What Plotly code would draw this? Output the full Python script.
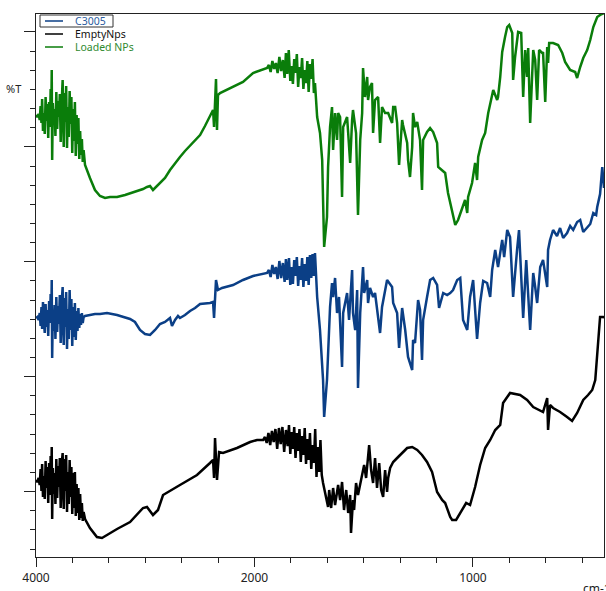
import plotly.graph_objects as go

# FTIR spectra (wavenumber in cm-1, %T on an offset display scale)
loaded_nps = [
    (4000, 88.4), (3988, 88.0), (3976, 88.6), (3966, 87.4), (3958, 90.2), (3950, 86.8), (3944, 91.6),
    (3936, 85.2), (3928, 88.8), (3920, 84.6), (3912, 92.0), (3904, 87.2), (3896, 90.6), (3888, 83.8),
    (3880, 91.0), (3872, 86.0), (3866, 93.6), (3860, 88.2), (3856, 97.4), (3852, 79.4), (3846, 90.8),
    (3838, 86.4), (3830, 89.6), (3822, 84.2), (3814, 93.0), (3806, 85.6), (3798, 91.2), (3790, 88.0),
    (3782, 92.6), (3774, 83.0), (3766, 90.4), (3760, 94.0), (3756, 95.4), (3750, 86.2), (3746, 82.0),
    (3740, 92.8), (3732, 87.0), (3724, 94.2), (3716, 81.8), (3708, 90.0), (3700, 84.0), (3692, 93.2),
    (3684, 86.6), (3676, 92.0), (3668, 80.8), (3660, 89.6), (3652, 83.2), (3644, 91.0), (3636, 80.2),
    (3628, 88.4), (3620, 82.6), (3612, 87.8), (3604, 79.6), (3596, 85.2), (3588, 80.4), (3580, 83.6),
    (3572, 79.0), (3564, 81.4),
    (3551, 78.4), (3506, 75.8), (3460, 73.4), (3414, 72.2), (3368, 71.8), (3322, 72.0), (3258, 72.0),
    (3185, 72.4), (3094, 73.0), (3020, 73.6), (2984, 74.0), (2956, 74.2), (2929, 73.4), (2910, 73.8),
    (2865, 74.8), (2819, 75.8), (2773, 77.4), (2727, 78.8), (2682, 80.0), (2636, 81.2), (2590, 82.2),
    (2544, 83.2), (2498, 84.4), (2453, 86.2), (2407, 88.0),
    (2379, 89.4), (2370, 86.0), (2361, 91.4), (2352, 95.6), (2343, 85.4), (2334, 92.4), (2315, 92.8),
    (2297, 93.0), (2196, 94.0), (2105, 95.0), (2013, 96.8),
    (1942, 97.8), (1934, 98.4), (1926, 97.0), (1918, 99.2), (1910, 97.6), (1902, 98.8), (1894, 96.8),
    (1886, 100.0), (1878, 97.2), (1870, 99.4), (1862, 95.8), (1856, 100.8), (1850, 96.6), (1843, 101.4),
    (1836, 95.2), (1830, 98.2), (1824, 94.6), (1818, 99.6), (1812, 96.8), (1806, 100.6), (1800, 94.0),
    (1794, 98.0), (1788, 95.8), (1782, 99.8), (1776, 93.6), (1770, 97.4), (1764, 94.8), (1758, 99.2),
    (1752, 93.0), (1746, 98.6), (1740, 95.6), (1734, 99.6), (1728, 92.8), (1723, 94.8), (1713, 88.0),
    (1700, 84.8), (1690, 79.4), (1686, 71.4), (1681, 62.0), (1668, 68.0), (1663, 78.0), (1654, 86.0),
    (1645, 90.0), (1640, 81.4), (1631, 88.8), (1622, 83.4), (1617, 88.8), (1608, 88.0), (1599, 72.0),
    (1594, 86.0), (1576, 88.0), (1571, 84.8), (1562, 78.8), (1553, 87.4), (1549, 89.4), (1535, 84.8),
    (1526, 68.4), (1516, 83.4), (1507, 88.8), (1503, 97.8), (1494, 92.0), (1484, 96.0), (1480, 91.4),
    (1471, 94.0), (1462, 94.8), (1457, 84.8), (1448, 91.4), (1434, 92.0), (1425, 82.8), (1416, 90.0),
    (1402, 88.8), (1388, 88.8), (1370, 86.8), (1365, 90.0), (1356, 90.0), (1347, 86.8), (1338, 78.4),
    (1324, 87.4), (1320, 86.4), (1301, 82.8), (1297, 79.4), (1288, 76.0), (1278, 82.0), (1274, 88.8),
    (1265, 86.0), (1255, 87.0), (1251, 86.0), (1242, 83.4), (1233, 73.4), (1228, 83.4), (1210, 85.0),
    (1196, 85.8), (1182, 85.0), (1164, 82.8), (1159, 78.0), (1141, 77.4), (1127, 76.8), (1114, 72.8),
    (1095, 68.8), (1081, 66.4), (1068, 67.4), (1049, 70.0), (1036, 71.4), (1026, 68.8), (1022, 72.0),
    (1004, 74.8), (990, 78.8), (981, 75.4), (976, 80.0), (958, 83.4), (944, 84.8), (930, 88.8),
    (907, 93.4), (889, 91.4), (885, 92.0), (875, 96.0), (866, 101.0), (853, 104.0), (843, 106.0),
    (834, 106.4), (820, 104.8), (816, 95.4), (807, 100.0), (793, 105.0), (779, 104.8), (770, 92.0),
    (761, 101.4), (752, 96.0), (747, 101.8), (738, 86.8), (724, 101.4), (715, 99.4), (706, 91.4),
    (697, 101.4), (683, 100.8), (679, 101.0), (669, 91.0), (660, 102.0), (656, 98.8), (651, 102.8),
    (633, 102.8), (610, 102.4), (591, 100.8), (578, 99.0), (555, 97.4), (532, 97.0), (523, 95.8),
    (509, 98.0), (495, 99.8), (477, 101.4), (463, 103.4), (449, 106.0), (431, 108.0), (418, 108.4),
    (400, 108.8),
]

c3005 = [
    (4000, 47.8), (3988, 48.0), (3976, 47.4), (3966, 48.8), (3958, 46.2), (3950, 50.0), (3944, 45.6),
    (3936, 51.0), (3928, 47.2), (3920, 44.8), (3912, 50.6), (3904, 46.0), (3896, 49.4), (3888, 44.2),
    (3880, 51.2), (3872, 46.8), (3866, 52.6), (3860, 47.6), (3856, 55.4), (3852, 39.8), (3846, 49.2),
    (3838, 45.2), (3830, 50.4), (3822, 43.6), (3814, 52.0), (3806, 45.0), (3798, 50.2), (3790, 46.6),
    (3782, 52.4), (3774, 42.8), (3766, 50.6), (3760, 53.0), (3756, 54.0), (3750, 45.0), (3746, 42.4),
    (3740, 51.8), (3732, 46.0), (3724, 53.0), (3716, 41.6), (3708, 49.6), (3700, 43.6), (3692, 53.4),
    (3684, 45.4), (3676, 51.6), (3668, 42.2), (3660, 50.0), (3652, 44.0), (3644, 50.8), (3636, 43.4),
    (3628, 49.2), (3620, 45.2), (3612, 49.8), (3604, 45.8), (3596, 48.6), (3588, 46.4), (3580, 48.8),
    (3572, 46.8), (3564, 48.0),
    (3551, 48.2), (3506, 48.4), (3460, 48.6), (3414, 48.6), (3350, 48.8), (3258, 48.4), (3139, 47.6),
    (3094, 47.0), (3048, 45.4), (3002, 44.6), (2956, 44.4), (2910, 45.4), (2865, 46.6), (2819, 47.0),
    (2773, 47.8), (2755, 46.2), (2727, 47.4), (2700, 48.2), (2682, 47.8), (2636, 48.4), (2590, 49.2),
    (2544, 49.8), (2498, 50.6), (2407, 50.8), (2379, 51.0), (2370, 47.8), (2352, 55.4), (2334, 53.4),
    (2297, 53.8), (2196, 54.4), (2105, 55.4), (2013, 56.2),
    (1942, 56.8), (1934, 57.4), (1926, 56.0), (1918, 58.4), (1910, 56.6), (1902, 58.0), (1894, 55.6),
    (1886, 59.2), (1878, 55.8), (1870, 58.8), (1862, 55.0), (1856, 59.6), (1850, 55.4), (1842, 59.8),
    (1836, 54.4), (1830, 58.0), (1824, 54.6), (1818, 59.4), (1812, 56.2), (1806, 60.0), (1800, 54.2),
    (1794, 58.2), (1788, 55.4), (1782, 59.8), (1776, 54.0), (1770, 58.6), (1764, 55.2), (1758, 60.0),
    (1752, 54.4), (1746, 60.4), (1740, 55.8), (1734, 60.6), (1728, 56.2), (1723, 60.8), (1713, 52.0),
    (1700, 45.4), (1686, 35.4), (1681, 28.0), (1668, 35.4), (1654, 50.0), (1645, 54.8), (1640, 52.0),
    (1631, 55.8), (1622, 48.8), (1613, 52.0), (1599, 38.0), (1594, 48.8), (1576, 52.8), (1567, 47.4),
    (1553, 57.4), (1549, 48.8), (1539, 45.4), (1530, 53.4), (1526, 33.8), (1516, 48.8), (1503, 58.0),
    (1498, 52.8), (1484, 55.4), (1480, 50.8), (1471, 53.8), (1457, 52.0), (1448, 52.8), (1425, 44.8),
    (1416, 50.0), (1393, 55.4), (1370, 54.0), (1365, 50.8), (1347, 48.8), (1338, 41.8), (1324, 49.8),
    (1310, 45.4), (1297, 40.0), (1278, 37.4), (1274, 43.4), (1265, 42.8), (1251, 51.4), (1242, 49.4),
    (1233, 39.4), (1228, 47.4), (1210, 52.0), (1196, 55.4), (1182, 55.8), (1164, 54.4), (1155, 49.8),
    (1136, 52.8), (1118, 52.4), (1104, 52.8), (1091, 53.4), (1072, 55.4), (1058, 55.8), (1045, 47.4),
    (1026, 45.4), (1013, 52.0), (999, 55.4), (981, 43.6), (967, 50.8), (953, 55.2), (935, 54.8),
    (921, 52.0), (912, 57.4), (898, 61.4), (885, 58.0), (866, 63.4), (857, 60.0), (843, 65.4),
    (830, 64.0), (816, 52.0), (798, 61.4), (789, 65.4), (770, 47.8), (756, 59.4), (738, 45.4),
    (724, 56.8), (715, 54.0), (706, 50.8), (692, 58.0), (679, 59.4), (660, 54.0), (656, 61.4),
    (647, 63.4), (633, 65.4), (615, 64.2), (601, 65.8), (587, 63.8), (569, 64.8), (555, 66.2),
    (541, 65.4), (523, 67.0), (509, 67.4), (495, 65.0), (477, 65.8), (463, 66.6), (449, 68.8),
    (436, 68.4), (431, 70.0), (418, 72.6), (408, 78.0), (404, 75.4), (400, 73.8),
]

empty_nps = [
    (4000, 15.4), (3988, 15.0), (3976, 15.8), (3966, 14.4), (3958, 17.6), (3950, 13.2), (3944, 18.6),
    (3936, 12.0), (3928, 16.2), (3920, 11.6), (3912, 19.2), (3904, 13.8), (3896, 18.0), (3888, 10.8),
    (3880, 18.8), (3872, 12.4), (3866, 20.2), (3860, 14.6), (3856, 22.0), (3852, 7.6), (3846, 17.8),
    (3838, 12.6), (3830, 16.8), (3822, 10.6), (3814, 19.6), (3806, 11.8), (3798, 18.2), (3790, 14.0),
    (3782, 19.8), (3774, 9.8), (3766, 18.4), (3760, 20.0), (3756, 20.8), (3750, 12.0), (3746, 9.6),
    (3740, 19.6), (3732, 13.2), (3724, 20.4), (3716, 9.0), (3708, 17.0), (3700, 10.6), (3692, 19.4),
    (3684, 12.0), (3676, 18.0), (3668, 8.6), (3660, 16.8), (3652, 9.8), (3644, 17.0), (3636, 8.2),
    (3628, 14.6), (3620, 8.8), (3612, 13.8), (3604, 7.4), (3596, 12.6), (3588, 7.8), (3580, 10.8),
    (3572, 7.2), (3564, 9.0),
    (3551, 7.6), (3506, 5.8), (3442, 4.0), (3396, 3.8), (3322, 4.8), (3258, 5.6), (3139, 7.0),
    (3020, 9.8), (2984, 10.0), (2929, 8.4), (2883, 9.4), (2837, 12.4), (2682, 14.4), (2526, 16.4),
    (2407, 18.8), (2379, 19.4), (2370, 15.8), (2361, 23.8), (2343, 15.4), (2324, 21.0), (2288, 20.8),
    (2160, 21.8), (2040, 23.0), (1988, 23.4),
    (1960, 23.4), (1952, 24.0), (1944, 22.8), (1936, 24.8), (1928, 22.4), (1920, 25.2), (1912, 23.0),
    (1904, 25.6), (1896, 21.6), (1888, 25.8), (1880, 22.6), (1872, 26.0), (1864, 21.0), (1856, 25.4),
    (1848, 22.2), (1842, 26.4), (1836, 20.6), (1830, 25.0), (1824, 21.6), (1818, 26.0), (1812, 19.8),
    (1806, 24.8), (1800, 21.2), (1794, 25.6), (1788, 19.0), (1782, 24.2), (1776, 20.4), (1770, 25.8),
    (1764, 18.6), (1758, 23.6), (1752, 19.4), (1746, 24.8), (1740, 17.6), (1734, 22.4), (1728, 18.8),
    (1722, 25.6), (1716, 16.0), (1710, 22.0), (1704, 17.0), (1698, 23.4), (1692, 16.4), (1686, 14.8),
    (1663, 10.0), (1658, 13.4), (1649, 9.8), (1640, 13.8), (1631, 10.4), (1617, 14.4),
    (1608, 11.4), (1599, 15.0), (1590, 9.4), (1580, 13.4), (1571, 8.8), (1562, 12.4), (1558, 4.8),
    (1549, 11.4), (1544, 9.4), (1535, 14.8), (1526, 12.4), (1512, 15.4), (1498, 18.4), (1489, 15.8),
    (1475, 22.4), (1466, 17.4), (1457, 14.8), (1448, 19.8), (1439, 13.8), (1429, 18.8), (1420, 13.4),
    (1411, 12.0), (1402, 17.4), (1393, 13.0), (1388, 15.8), (1379, 17.8), (1365, 19.0), (1347, 19.8),
    (1324, 20.8), (1301, 21.8), (1278, 22.0), (1255, 21.4), (1233, 20.4), (1210, 19.0), (1187, 17.0),
    (1164, 13.0), (1141, 11.4), (1127, 10.8), (1104, 8.0), (1095, 7.4), (1077, 7.4), (1058, 8.8),
    (1049, 9.4), (1031, 10.8), (1013, 10.4), (990, 14.0), (967, 18.4), (944, 21.8), (921, 23.4),
    (898, 25.4), (875, 26.4), (862, 30.8), (830, 32.8), (784, 32.4), (752, 31.4), (724, 30.0),
    (679, 29.0), (660, 31.8), (656, 25.4), (647, 30.4), (633, 29.8), (601, 29.0), (569, 28.0),
    (546, 27.2), (523, 28.8), (495, 31.4), (473, 32.4), (454, 33.4), (440, 35.4), (427, 43.4),
    (418, 48.0), (404, 48.0), (400, 47.8),
]

series = [
    ("C3005", c3005, "#0b3f86"),
    ("EmptyNps", empty_nps, "#000000"),
    ("Loaded NPs", loaded_nps, "#0a7d0a"),
]
legend_text_colors = ["#2a5b9e", "#111111", "#2f8a2f"]

x_tick_values = [4000, 2000, 1000]
x_tick_labels = ["4000", "2000", "1000"]
x_end = 400


def axis_pos(w):
    """Split wavenumber scale: 4000-2000 compressed, below 2000 expanded two-fold."""
    if w >= 2000:
        return (4000 - w) / (2000 / 6)
    return 6 + (2000 - w) / (1000 / 6)


fig = go.Figure()
for name, pts, color in series:
    fig.add_trace(go.Scatter(
        x=[axis_pos(w) for w, _ in pts],
        y=[t for _, t in pts],
        mode="lines",
        name=name,
        line=dict(color=color, width=2.5),
        showlegend=False,
    ))

# legend drawn in the upper-left corner of the plot area
plot_l, plot_r, plot_t, plot_b = 36, 604, 14, 557
pw, ph = plot_r - plot_l, plot_b - plot_t


def px(xp):
    return (xp - plot_l) / pw


def py(yp):
    return (plot_b - yp) / ph


shapes = [dict(type="rect", xref="paper", yref="paper",
               x0=px(40), x1=px(113), y0=py(27), y1=py(15),
               line=dict(color="#333333", width=1))]
annotations = []
for i, (name, _, color) in enumerate(series):
    yy = 21 + 13 * i
    shapes.append(dict(type="line", xref="paper", yref="paper",
                       x0=px(45), x1=px(63), y0=py(yy), y1=py(yy),
                       line=dict(color=color, width=1.5)))
    annotations.append(dict(xref="paper", yref="paper", x=px(73), y=py(yy),
                            text=name, showarrow=False, xanchor="left", yanchor="middle",
                            font=dict(family="Noto Sans", size=10.5, color=legend_text_colors[i])))

annotations.append(dict(xref="paper", yref="paper", x=px(4), y=py(89), text="%T",
                        showarrow=False, xanchor="left", yanchor="middle",
                        font=dict(family="Noto Sans", size=11, color="#222222")))
annotations.append(dict(xref="paper", yref="paper", x=px(581), y=py(588), text="cm-1",
                        showarrow=False, xanchor="left", yanchor="middle",
                        font=dict(family="Noto Sans", size=12, color="#222222")))

y_minor_step = 3.83
y_minor_start = 1.6
y_major = [y_minor_start + y_minor_step * k for k in (3, 9, 15, 21, 27)]

fig.update_layout(
    width=606, height=591,
    margin=dict(l=plot_l, r=606 - plot_r, t=plot_t, b=591 - plot_b),
    paper_bgcolor="white", plot_bgcolor="white",
    shapes=shapes, annotations=annotations,
    xaxis=dict(
        range=[0, axis_pos(x_end)],
        tickmode="array",
        tickvals=[axis_pos(w) for w in x_tick_values],
        ticktext=x_tick_labels,
        ticks="outside", ticklen=9, tickwidth=1.2, tickcolor="#222222",
        minor=dict(ticks="outside", dtick=1, tick0=0, ticklen=5, tickwidth=1.2, tickcolor="#222222"),
        showgrid=False, zeroline=False,
        showline=True, linecolor="#222222", linewidth=1.2, mirror=True,
        tickfont=dict(family="Noto Sans", size=12, color="#222222"),
    ),
    yaxis=dict(
        range=[0, ph / 5],
        tickmode="array",
        tickvals=y_major,
        showticklabels=False,
        ticks="outside", ticklen=11, tickwidth=1.2, tickcolor="#222222",
        minor=dict(ticks="outside", dtick=y_minor_step, tick0=y_minor_start, ticklen=5,
                   tickwidth=1.2, tickcolor="#222222"),
        showgrid=False, zeroline=False,
        showline=True, linecolor="#222222", linewidth=1.2, mirror=True,
    ),
)

fig.write_html("out.html")
